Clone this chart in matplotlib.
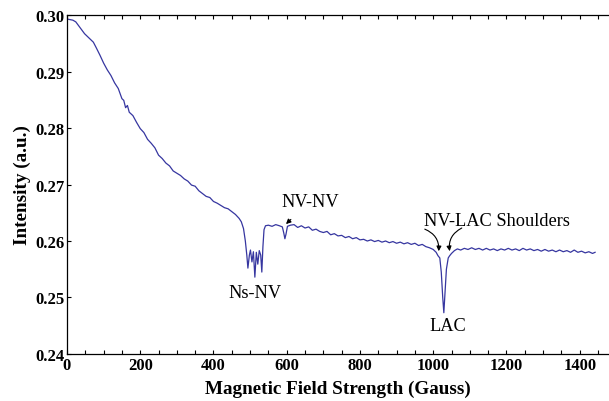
import matplotlib
matplotlib.use("Agg")
import matplotlib.pyplot as plt
from matplotlib.ticker import MultipleLocator

field = [0, 8, 16, 24, 32, 40, 48, 56, 64, 72, 80, 90, 100, 110, 120, 130, 140, 150, 155, 160,
         165, 170, 180, 190, 200, 210, 220, 230, 240, 250, 260, 270, 280, 290, 300, 310, 320, 330,
         340, 350, 360, 370, 380, 390, 400, 410, 420, 430, 440, 450, 460, 470, 476, 482, 487, 491,
         494, 498, 501, 505, 509, 513, 517, 521, 525, 529, 532, 535, 538, 542, 550, 560, 570, 580, 588,
         592, 595, 598, 602, 610, 620, 630, 640, 650, 660, 670, 680, 690, 700, 710, 720, 730, 740,
         750, 760, 770, 780, 790, 800, 810, 820, 830, 840, 850, 860, 870, 880, 890, 900, 910, 920,
         930, 940, 950, 960, 970, 980, 990, 1000, 1008, 1013, 1018, 1022, 1026, 1029, 1032, 1036,
         1041, 1045, 1050, 1058, 1066, 1075, 1085, 1095, 1105, 1115, 1125, 1135, 1145, 1155, 1165,
         1175, 1185, 1195, 1205, 1215, 1225, 1235, 1245, 1255, 1265, 1275, 1285, 1295, 1305, 1315,
         1325, 1335, 1345, 1355, 1365, 1375, 1385, 1395, 1405, 1415, 1425, 1435, 1442]

intensity = [0.2993, 0.2992, 0.2991, 0.2988, 0.2981, 0.2974, 0.2967, 0.2962, 0.2957, 0.2952,
             0.2942, 0.2929, 0.2915, 0.2903, 0.2893, 0.2880, 0.2870, 0.2852, 0.2849, 0.2836,
             0.2840, 0.2828, 0.2822, 0.2810, 0.2799, 0.2792, 0.2780, 0.2773, 0.2765, 0.2752,
             0.2746, 0.2738, 0.2733, 0.2724, 0.2720, 0.2716, 0.2710, 0.2706, 0.2699, 0.2697,
             0.2689, 0.2684, 0.2679, 0.2677, 0.2670, 0.2667, 0.2663, 0.2659, 0.2657, 0.2652,
             0.2647, 0.2640, 0.2634, 0.2622, 0.2600, 0.2575, 0.2552, 0.2575, 0.2584, 0.2563,
             0.2581, 0.2536, 0.2580, 0.2559, 0.2583, 0.2575, 0.2545, 0.2590, 0.2620, 0.2627, 0.2628,
             0.2626, 0.2629, 0.2627, 0.2625, 0.2614, 0.2604, 0.2612, 0.2626, 0.2628, 0.2629,
             0.2624, 0.2627, 0.2623, 0.2625, 0.2619, 0.2621, 0.2617, 0.2615, 0.2617, 0.2611,
             0.2613, 0.2609, 0.2610, 0.2606, 0.2608, 0.2604, 0.2606, 0.2602, 0.2603, 0.2600,
             0.2602, 0.2599, 0.2601, 0.2598, 0.2600, 0.2597, 0.2599, 0.2596, 0.2598, 0.2595,
             0.2597, 0.2594, 0.2596, 0.2592, 0.2594, 0.2590, 0.2588, 0.2585, 0.2580, 0.2574,
             0.2570, 0.2545, 0.2500, 0.2473, 0.2505, 0.2550, 0.2570, 0.2574, 0.2578, 0.2583,
             0.2586, 0.2584, 0.2587, 0.2585, 0.2588, 0.2585, 0.2587, 0.2584, 0.2587, 0.2584,
             0.2586, 0.2583, 0.2586, 0.2584, 0.2587, 0.2584, 0.2586, 0.2583, 0.2587, 0.2584,
             0.2586, 0.2583, 0.2585, 0.2582, 0.2585, 0.2582, 0.2584, 0.2581, 0.2584, 0.2581,
             0.2583, 0.2580, 0.2584, 0.2580, 0.2582, 0.2579, 0.2581, 0.2578, 0.2580]

x_ticks = [0, 200, 400, 600, 800, 1000, 1200, 1400]
y_ticks = [0.24, 0.25, 0.26, 0.27, 0.28, 0.29, 0.30]

plt.rcParams['font.family'] = ['Liberation Serif', 'DejaVu Serif']

fig = plt.figure(figsize=(6.09, 4.02), dpi=100)
ax = fig.add_axes([0.110, 0.117, 0.890, 0.843])
ax.plot(field, intensity, color='#3636a0', lw=0.9)

ax.set_xlim(0, 1480)
ax.set_ylim(0.24, 0.30)
ax.set_xticks(x_ticks)
ax.set_yticks(y_ticks)
ax.set_yticklabels([f"{v:.2f}" for v in y_ticks])
ax.xaxis.set_minor_locator(MultipleLocator(50))
ax.tick_params(which='both', direction='in', top=True, right=False, length=3, width=0.8,
               labelsize=12, pad=2)
for lab in ax.get_xticklabels() + ax.get_yticklabels():
    lab.set_fontweight('bold')
ax.spines['right'].set_visible(False)
for s in ['left', 'bottom', 'top']:
    ax.spines[s].set_linewidth(0.9)

ax.set_xlabel('Magnetic Field Strength (Gauss)', fontsize=13.8, fontweight='bold', labelpad=5)
ax.set_ylabel('Intensity (a.u.)', fontsize=13.8, fontweight='bold', labelpad=3)

akw = dict(fontsize=13.2, ha='center', va='center')
ax.text(513, 0.2508, 'Ns-NV', **akw)
ax.text(1040, 0.2450, 'LAC', **akw)
ax.annotate('NV-NV', xy=(598, 0.2630), xytext=(663, 0.2670), **akw,
            arrowprops=dict(arrowstyle='-|>', color='black', lw=0.8, mutation_scale=7,
                            shrinkA=7, shrinkB=0))
ax.text(1173, 0.2637, 'NV-LAC Shoulders', **akw)
ax.annotate('', xy=(1015, 0.2582), xytext=(977, 0.2621),
            arrowprops=dict(arrowstyle='-|>', color='black', lw=0.8, mutation_scale=7,
                            shrinkA=0, shrinkB=0, connectionstyle='arc3,rad=-0.35'))
ax.annotate('', xy=(1045, 0.2582), xytext=(1078, 0.2623),
            arrowprops=dict(arrowstyle='-|>', color='black', lw=0.8, mutation_scale=7,
                            shrinkA=0, shrinkB=0, connectionstyle='arc3,rad=0.35'))

fig.savefig('out.png', dpi=100)
